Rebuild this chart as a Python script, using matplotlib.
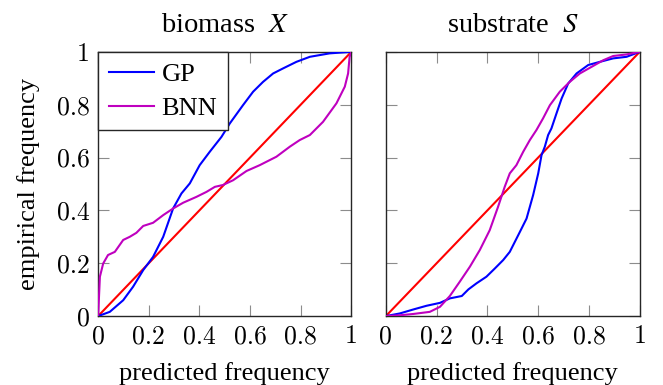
import matplotlib
matplotlib.use("Agg")
import matplotlib.pyplot as plt

plt.rcParams['font.family'] = ['Liberation Serif', 'DejaVu Serif']
plt.rcParams['mathtext.fontset'] = 'stix'

# biomass X
gp_x_pred = [0, 0.046, 0.099, 0.138, 0.178, 0.217, 0.257, 0.296, 0.329, 0.362, 0.401, 0.441,
             0.487, 0.520, 0.572, 0.612, 0.651, 0.691, 0.730, 0.783, 0.836, 0.914, 1.0]
gp_x_emp = [0, 0.016, 0.060, 0.111, 0.174, 0.224, 0.300, 0.407, 0.464, 0.502, 0.571, 0.622,
            0.678, 0.729, 0.798, 0.849, 0.886, 0.918, 0.937, 0.962, 0.981, 0.994, 1.0]
bnn_x_pred = [0, 0.007, 0.020, 0.039, 0.066, 0.099, 0.125, 0.151, 0.178, 0.217, 0.257, 0.296,
              0.336, 0.388, 0.428, 0.461, 0.493, 0.533, 0.586, 0.638, 0.704, 0.757, 0.796,
              0.836, 0.888, 0.941, 0.974, 0.987, 0.993, 1.0]
bnn_x_emp = [0, 0.149, 0.199, 0.231, 0.243, 0.288, 0.300, 0.315, 0.341, 0.353, 0.382, 0.407,
             0.429, 0.451, 0.470, 0.489, 0.496, 0.514, 0.549, 0.571, 0.603, 0.641, 0.666,
             0.685, 0.735, 0.805, 0.868, 0.918, 0.981, 1.0]

# substrate S
gp_s_pred = [0, 0.055, 0.108, 0.160, 0.213, 0.252, 0.299, 0.325, 0.357, 0.396, 0.429, 0.462,
             0.488, 0.528, 0.554, 0.580, 0.600, 0.613, 0.626, 0.639, 0.652, 0.672, 0.692,
             0.718, 0.751, 0.797, 0.843, 0.895, 0.948, 1.0]
gp_s_emp = [0, 0.010, 0.025, 0.039, 0.050, 0.067, 0.076, 0.101, 0.124, 0.149, 0.180, 0.212,
            0.243, 0.319, 0.369, 0.458, 0.540, 0.609, 0.641, 0.685, 0.710, 0.767, 0.823,
            0.880, 0.918, 0.950, 0.962, 0.975, 0.981, 1.0]
bnn_s_pred = [0, 0.055, 0.108, 0.173, 0.213, 0.252, 0.291, 0.331, 0.370, 0.409, 0.442, 0.468,
              0.488, 0.514, 0.541, 0.567, 0.593, 0.619, 0.646, 0.685, 0.724, 0.764, 0.810,
              0.856, 0.895, 0.948, 1.0]
bnn_s_emp = [0, 0.003, 0.008, 0.016, 0.035, 0.076, 0.130, 0.187, 0.250, 0.325, 0.414, 0.489,
             0.540, 0.571, 0.622, 0.666, 0.704, 0.748, 0.798, 0.849, 0.886, 0.918, 0.943,
             0.968, 0.984, 0.990, 1.0]

ticks = [0, 0.2, 0.4, 0.6, 0.8, 1]
tick_labels = ['0', '0.2', '0.4', '0.6', '0.8', '1']

fig = plt.figure(figsize=(6.63, 3.85), dpi=100)
ax1 = fig.add_axes([0.148, 0.179, 0.382, 0.6865])
ax2 = fig.add_axes([0.582, 0.179, 0.383, 0.6865])

blue = (0, 0, 1)
violet = (0.75, 0, 0.75)
fs = 19

for ax, gx, gy, bx, by, title in [
        (ax1, gp_x_pred, gp_x_emp, bnn_x_pred, bnn_x_emp, 'biomass  $X$'),
        (ax2, gp_s_pred, gp_s_emp, bnn_s_pred, bnn_s_emp, 'substrate  $S$')]:
    ax.plot([0, 1], [0, 1], color='red', lw=1.5, zorder=2)
    ax.plot(gx, gy, color=blue, lw=1.5, label='GP', zorder=3)
    ax.plot(bx, by, color=violet, lw=1.5, label='BNN', zorder=3)
    ax.set_xlim(0, 1)
    ax.set_ylim(0, 1)
    ax.set_xticks(ticks)
    ax.set_xticklabels(tick_labels, fontfamily='cmr10', fontsize=18.5)
    ax.set_yticks(ticks)
    ax.tick_params(direction='in', length=8, width=0.8, color='#8c8c8c',
                   top=True, right=True)
    ax.tick_params(axis='x', pad=6)
    ax.tick_params(axis='y', pad=6)
    for sp in ax.spines.values():
        sp.set_linewidth(1.0)
        sp.set_color('#262626')
    ax.set_title(title, fontsize=20.5, pad=14)
    ax.set_xlabel('predicted frequency', fontsize=fs, labelpad=10)

ax1.set_yticklabels(tick_labels, fontfamily='cmr10', fontsize=18.5)
ax2.set_yticklabels([])
ax1.set_ylabel('empirical frequency', fontsize=fs, labelpad=12)

leg = ax1.legend(loc='upper left', fontsize=fs, fancybox=False, framealpha=1,
                 edgecolor='#262626', borderaxespad=0, handlelength=1.7,
                 handletextpad=0.3, borderpad=0.4, labelspacing=0.4)
leg.get_frame().set_linewidth(1.0)

fig.savefig('out.png', dpi=100)
